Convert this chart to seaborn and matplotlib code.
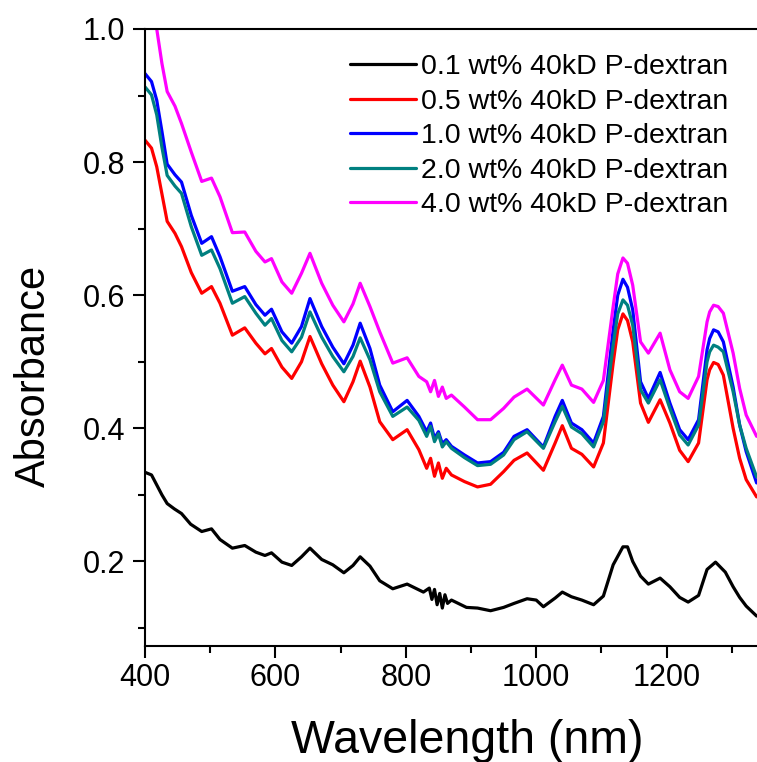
import numpy as np
import pandas as pd
import matplotlib
matplotlib.use("Agg")
import matplotlib.pyplot as plt
from matplotlib.ticker import MultipleLocator
import seaborn as sns

# wavelength grid (nm)
wl_black = [400, 410, 418, 426, 434, 445, 456, 470, 487, 502,
            515, 534, 553, 570, 584, 594, 610, 625, 640, 653,
            671, 688, 705, 719, 730, 745, 760, 780, 802, 827,
            836, 840, 844, 848, 852, 856, 860, 864, 870, 893,
            910, 930, 950, 966, 986, 1000, 1011, 1029, 1040, 1054,
            1070, 1088, 1103, 1118, 1133, 1140, 1148, 1160, 1172, 1190,
            1205, 1220, 1233, 1249, 1262, 1275, 1290, 1302, 1312, 1322,
            1338]
abs_01 = [0.334, 0.330, 0.315, 0.300, 0.287, 0.279, 0.272, 0.256, 0.245, 0.249,
          0.233, 0.220, 0.224, 0.214, 0.209, 0.213, 0.199, 0.194, 0.207, 0.220,
          0.203, 0.195, 0.183, 0.194, 0.207, 0.193, 0.171, 0.159, 0.166, 0.154,
          0.160, 0.143, 0.158, 0.135, 0.152, 0.130, 0.150, 0.137, 0.142, 0.131,
          0.130, 0.126, 0.131, 0.137, 0.144, 0.142, 0.132, 0.145, 0.154, 0.147,
          0.142, 0.135, 0.148, 0.195, 0.222, 0.222, 0.200, 0.178, 0.166, 0.175,
          0.162, 0.146, 0.139, 0.149, 0.188, 0.199, 0.184, 0.162, 0.146, 0.133,
          0.118]

wl = [400, 410, 418, 426, 434, 446, 456, 471, 487, 502,
      515, 534, 553, 570, 584, 594, 610, 625, 640, 653,
      671, 688, 705, 719, 730, 745, 760, 780, 802, 820,
      832, 838, 844, 850, 856, 862, 870, 890, 910, 930,
      950, 966, 986, 1011, 1029, 1040, 1054, 1070, 1088, 1103,
      1118, 1125, 1133, 1140, 1148, 1160, 1172, 1190, 1205, 1220,
      1233, 1249, 1262, 1266, 1272, 1279, 1287, 1302, 1312, 1322,
      1338]
abs_05 = [0.833, 0.821, 0.793, 0.752, 0.711, 0.693, 0.673, 0.634, 0.603, 0.613,
          0.588, 0.540, 0.551, 0.528, 0.512, 0.520, 0.492, 0.475, 0.500, 0.538,
          0.497, 0.465, 0.440, 0.470, 0.501, 0.462, 0.410, 0.383, 0.398, 0.368,
          0.340, 0.355, 0.328, 0.348, 0.325, 0.340, 0.330, 0.320, 0.312, 0.316,
          0.335, 0.352, 0.363, 0.337, 0.378, 0.404, 0.370, 0.361, 0.342, 0.378,
          0.498, 0.548, 0.572, 0.562, 0.530, 0.438, 0.409, 0.443, 0.408, 0.367,
          0.350, 0.378, 0.473, 0.488, 0.499, 0.496, 0.480, 0.400, 0.355, 0.323,
          0.297]
abs_10 = [0.933, 0.921, 0.893, 0.846, 0.797, 0.781, 0.770, 0.720, 0.678, 0.688,
          0.658, 0.606, 0.613, 0.586, 0.570, 0.579, 0.545, 0.528, 0.553, 0.595,
          0.553, 0.522, 0.497, 0.525, 0.558, 0.520, 0.465, 0.425, 0.442, 0.418,
          0.395, 0.408, 0.385, 0.395, 0.377, 0.383, 0.373, 0.360, 0.348, 0.350,
          0.364, 0.388, 0.398, 0.372, 0.418, 0.442, 0.408, 0.398, 0.378, 0.418,
          0.548, 0.600, 0.624, 0.612, 0.578, 0.470, 0.445, 0.484, 0.438, 0.398,
          0.383, 0.413, 0.518, 0.535, 0.548, 0.545, 0.530, 0.462, 0.405, 0.365,
          0.318]
abs_20 = [0.913, 0.901, 0.871, 0.822, 0.780, 0.764, 0.753, 0.703, 0.660, 0.668,
          0.640, 0.588, 0.598, 0.573, 0.555, 0.565, 0.532, 0.515, 0.537, 0.575,
          0.537, 0.508, 0.485, 0.508, 0.536, 0.503, 0.455, 0.418, 0.432, 0.412,
          0.388, 0.403, 0.380, 0.392, 0.372, 0.380, 0.370, 0.356, 0.344, 0.346,
          0.360, 0.383, 0.395, 0.370, 0.410, 0.433, 0.402, 0.392, 0.372, 0.410,
          0.525, 0.572, 0.593, 0.585, 0.555, 0.458, 0.438, 0.473, 0.430, 0.390,
          0.375, 0.405, 0.500, 0.515, 0.525, 0.522, 0.515, 0.455, 0.405, 0.370,
          0.327]
abs_40 = [1.100, 1.045, 1.000, 0.948, 0.906, 0.884, 0.858, 0.815, 0.771, 0.776,
          0.748, 0.694, 0.695, 0.666, 0.650, 0.655, 0.620, 0.603, 0.633, 0.663,
          0.618, 0.585, 0.560, 0.587, 0.618, 0.583, 0.545, 0.498, 0.506, 0.478,
          0.470, 0.455, 0.472, 0.448, 0.462, 0.445, 0.450, 0.432, 0.413, 0.413,
          0.430, 0.447, 0.459, 0.435, 0.473, 0.495, 0.465, 0.459, 0.439, 0.472,
          0.583, 0.632, 0.656, 0.648, 0.615, 0.530, 0.513, 0.543, 0.488, 0.455,
          0.445, 0.478, 0.560, 0.575, 0.585, 0.583, 0.573, 0.513, 0.460, 0.420,
          0.388]

labels = ["0.1 wt% 40kD P-dextran", "0.5 wt% 40kD P-dextran",
          "1.0 wt% 40kD P-dextran", "2.0 wt% 40kD P-dextran",
          "4.0 wt% 40kD P-dextran"]
colors = ["#000000", "#FF0000", "#0000FF", "#008080", "#FF00FF"]

frames = [pd.DataFrame({"wl": wl_black, "A": abs_01, "sample": labels[0]})]
for lab, vals in zip(labels[1:], [abs_05, abs_10, abs_20, abs_40]):
    frames.append(pd.DataFrame({"wl": wl, "A": vals, "sample": lab}))
df = pd.concat(frames, ignore_index=True)

sns.set_style("ticks")
plt.rcParams['font.family'] = ['Liberation Sans', 'DejaVu Sans']
plt.rcParams['text.color'] = 'black'
plt.rcParams['axes.labelcolor'] = 'black'
plt.rcParams['xtick.color'] = 'black'
plt.rcParams['ytick.color'] = 'black'

fig = plt.figure(figsize=(7.57, 7.62), dpi=100)
ax = fig.add_axes([145/757, 116/762, 612/757, 617/762])

sns.lineplot(data=df, x="wl", y="A", hue="sample", hue_order=labels,
             palette=colors, linewidth=2.3, estimator=None, ax=ax)
for ln in ax.get_lines():
    ln.set_solid_joinstyle('round')

ax.set_xlim(400, 1338.6)
ax.set_ylim(0.073, 1.0)
ax.xaxis.set_major_locator(MultipleLocator(200))
ax.xaxis.set_minor_locator(MultipleLocator(100))
ax.yaxis.set_major_locator(MultipleLocator(0.2))
ax.yaxis.set_minor_locator(MultipleLocator(0.1))
ax.tick_params(which='major', direction='out', length=8.5, width=1.5,
               labelsize=22, colors='black')
ax.tick_params(axis='x', which='major', pad=4)
ax.tick_params(axis='y', which='major', pad=6)
ax.tick_params(which='minor', direction='out', length=5, width=1.5, colors='black')
ax.tick_params(top=False, right=False, which='both')
for side in ['left', 'bottom', 'top']:
    ax.spines[side].set_linewidth(1.5)
    ax.spines[side].set_color('black')
ax.spines['right'].set_visible(False)

ax.set_xlabel("Wavelength (nm)", fontsize=33.5, color='black')
ax.set_ylabel("Absorbance", fontsize=30, color='black')
ax.xaxis.set_label_coords(0.526, -0.118)
ax.yaxis.set_label_coords(-0.149, 0.438)

handles, labs = ax.get_legend_handles_labels()
leg = ax.legend(handles, labs, loc='upper right', bbox_to_anchor=(728/757, 1-54/762),
                bbox_transform=fig.transFigure, frameon=False, fontsize=20.5,
                handlelength=2.33, handletextpad=0.15, labelspacing=0.3,
                borderpad=0, borderaxespad=0)
for t in leg.get_texts():
    t.set_color('black')

fig.savefig("out.png", dpi=100)
